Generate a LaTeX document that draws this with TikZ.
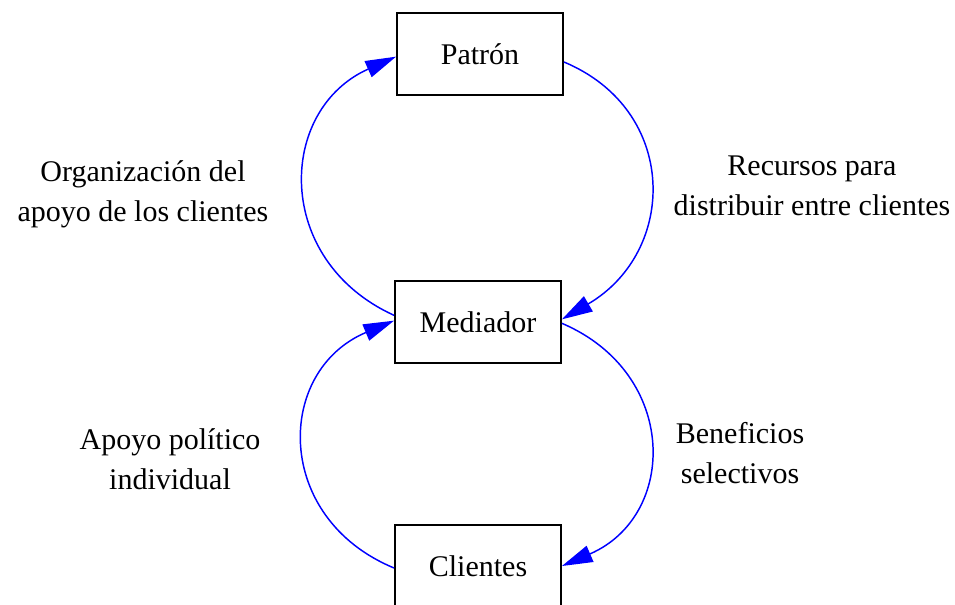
\documentclass[tikz,border=0pt]{standalone}
\usepackage{fontspec}
\setmainfont{Liberation Serif}
\usetikzlibrary{arrows.meta}
\begin{document}
\begin{tikzpicture}[x=0.75pt,y=-0.75pt,
  box/.style={draw=black,line width=1.4pt,fill=white,minimum width=124.5pt,minimum height=61.5pt,inner sep=0pt,font=\fontsize{22.5}{30}\selectfont},
  lbl/.style={align=center,font=\fontsize{22.5}{30}\selectfont,inner sep=0pt},
  conn/.style={draw=blue,line width=1.1pt,-{Triangle[length=23pt,width=13pt]}}]
\useasboundingbox (0,0) rectangle (955,605);
\node[box] (patron) at (480,54) {Patrón};
\node[box] (mediador) at (478,322) {Mediador};
\node[box] (clientes) at (478,566) {Clientes};
\node[lbl] (l1) at (143,194) {Organización del\\apoyo de los clientes};
\node[lbl] (l2) at (812,186) {Recursos para\\distribuir entre clientes};
\node[lbl] (l3) at (170,459) {Apoyo político\\individual};
\node[lbl] (l4) at (740,453) {Beneficios\\selectivos};
\draw[conn] ([yshift=-6pt]patron.east) .. controls +(115,48) and +(116,-68) .. ([yshift=2pt]mediador.east);
\draw[conn] ([yshift=5pt]mediador.west) .. controls +(-121,-55) and +(-119,53) .. ([yshift=-2pt]patron.west);
\draw[conn] ([yshift=-1.5pt]clientes.west) .. controls +(-121,-50) and +(-119,50) .. ([yshift=1pt]mediador.west);
\draw[conn] ([yshift=-1pt]mediador.east) .. controls +(117,50) and +(116,-50) .. (clientes.east);
\end{tikzpicture}
\end{document}
